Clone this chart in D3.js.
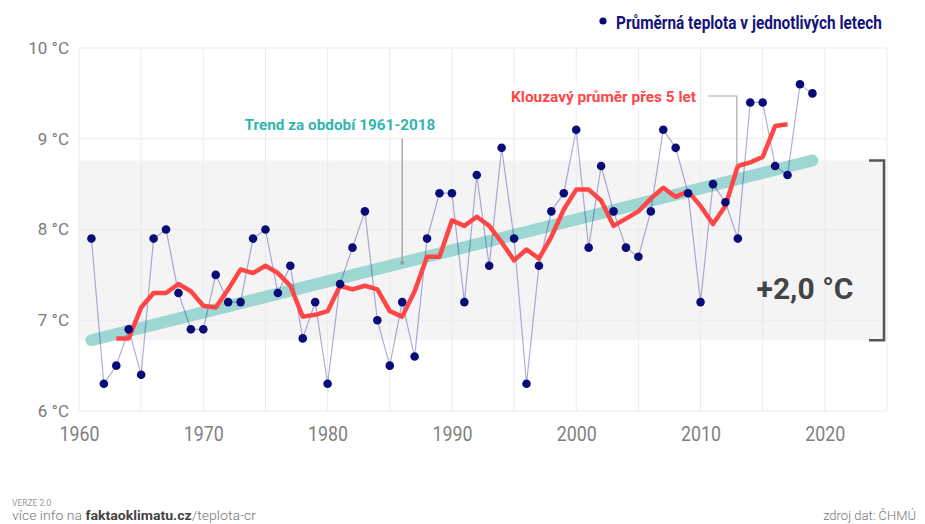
<!DOCTYPE html>
<html>
<head>
<meta charset="utf-8">
<script src="https://cdn.jsdelivr.net/npm/d3@7"></script>
<style>
  body { margin: 0; background: #fff; }
  svg { display: block; font-family: Roboto, "Noto Sans", sans-serif; }
</style>
</head>
<body>
<svg id="chart" width="925" height="524"></svg>
<script>
// roční průměry (ČHMÚ)
const years = [1961, 1962, 1963, 1964, 1965, 1966, 1967, 1968, 1969, 1970,
  1971, 1972, 1973, 1974, 1975, 1976, 1977, 1978, 1979, 1980,
  1981, 1982, 1983, 1984, 1985, 1986, 1987, 1988, 1989, 1990,
  1991, 1992, 1993, 1994, 1995, 1996, 1997, 1998, 1999, 2000,
  2001, 2002, 2003, 2004, 2005, 2006, 2007, 2008, 2009, 2010,
  2011, 2012, 2013, 2014, 2015, 2016, 2017, 2018, 2019]
const temps = [7.9, 6.3, 6.5, 6.9, 6.4, 7.9, 8.0, 7.3, 6.9, 6.9,
  7.5, 7.2, 7.2, 7.9, 8.0, 7.3, 7.6, 6.8, 7.2, 6.3,
  7.4, 7.8, 8.2, 7.0, 6.5, 7.2, 6.6, 7.9, 8.4, 8.4,
  7.2, 8.6, 7.6, 8.9, 7.9, 6.3, 7.6, 8.2, 8.4, 9.1,
  7.8, 8.7, 8.2, 7.8, 7.7, 8.2, 9.1, 8.9, 8.4, 7.2,
  8.5, 8.3, 7.9, 9.4, 9.4, 8.7, 8.6, 9.6, 9.5]

// klouzavy prumer pres 5 let
const maYears = [1963, 1964, 1965, 1966, 1967, 1968, 1969, 1970,
  1971, 1972, 1973, 1974, 1975, 1976, 1977, 1978, 1979, 1980,
  1981, 1982, 1983, 1984, 1985, 1986, 1987, 1988, 1989, 1990,
  1991, 1992, 1993, 1994, 1995, 1996, 1997, 1998, 1999, 2000,
  2001, 2002, 2003, 2004, 2005, 2006, 2007, 2008, 2009, 2010,
  2011, 2012, 2013, 2014, 2015, 2016, 2017]
const maValues = [6.80, 6.80, 7.14, 7.30, 7.30, 7.40, 7.32, 7.16,
  7.14, 7.34, 7.56, 7.52, 7.60, 7.52, 7.38, 7.04, 7.06, 7.10,
  7.38, 7.34, 7.38, 7.34, 7.10, 7.04, 7.32, 7.70, 7.70, 8.10,
  8.04, 8.14, 8.04, 7.86, 7.66, 7.78, 7.68, 7.92, 8.22, 8.44,
  8.44, 8.32, 8.04, 8.12, 8.20, 8.34, 8.46, 8.36, 8.42, 8.26,
  8.06, 8.26, 8.70, 8.74, 8.80, 9.14, 9.16]

// trend 1961-2018
const trendYears = [1961, 2019]
const trendValues = [6.78, 8.76]

const xTicks = [1960, 1970, 1980, 1990, 2000, 2010, 2020]
const xGrid = [1960, 1965, 1970, 1975, 1980, 1985, 1990, 1995, 2000, 2005, 2010, 2015, 2020, 2025]
const yTicks = [6, 7, 8, 9, 10]

var svg = d3.select("#chart")
var margin = {top: 48, right: 38, bottom: 113, left: 79}
var width = +svg.attr("width") - margin.left - margin.right
var height = +svg.attr("height") - margin.top - margin.bottom

var x = d3.scaleLinear().domain([1960, 2025]).range([0, width])
var y = d3.scaleLinear().domain([6, 10]).range([height, 0])

var g = svg.append("g").attr("transform", "translate(" + margin.left + "," + margin.top + ")")

// seda oblast mezi zacatkem a koncem trendu
g.append("rect")
  .attr("x", 0)
  .attr("width", width)
  .attr("y", y(trendValues[1]))
  .attr("height", y(trendValues[0]) - y(trendValues[1]))
  .attr("fill", "#f4f4f4")

// mrizka
g.append("g").selectAll("line").data(xGrid).enter().append("line")
  .attr("x1", d => x(d)).attr("x2", d => x(d))
  .attr("y1", 0).attr("y2", height)
  .attr("stroke", "#ebebeb")
g.append("g").selectAll("line").data(yTicks).enter().append("line")
  .attr("x1", 0).attr("x2", width)
  .attr("y1", d => y(d)).attr("y2", d => y(d))
  .attr("stroke", "#ebebeb")

// osy
var yAxis = g.append("g")
  .call(d3.axisLeft(y).tickValues(yTicks).tickSize(0).tickPadding(10).tickFormat(d => d + " °C"))
yAxis.select(".domain").remove()
yAxis.selectAll("text")
  .attr("font-family", "Roboto")
  .attr("font-size", 17)
  .attr("font-weight", 400)
  .attr("fill", "#7a7a7a")

var xAxis = g.append("g")
  .attr("transform", "translate(0," + height + ")")
  .call(d3.axisBottom(x).tickValues(xTicks).tickSize(0).tickPadding(16).tickFormat(d3.format("d")))
xAxis.select(".domain").remove()
xAxis.selectAll("text")
  .attr("font-family", "Roboto")
  .attr("font-size", 20)
  .attr("font-weight", 400)
  .attr("fill", "#808080")
  .attr("textLength", 40)
  .attr("lengthAdjust", "spacingAndGlyphs")

// trend
var trendData = trendYears.map((yr, i) => ({year: yr, value: trendValues[i]}))
var line = d3.line()
  .x(d => x(d.year))
  .y(d => y(d.value))

g.append("path")
  .datum(trendData)
  .attr("d", line)
  .attr("fill", "none")
  .attr("stroke", "#9dd6d3")
  .attr("stroke-width", 12)
  .attr("stroke-linecap", "round")

// jednotlive roky - spojnice
var data = years.map((yr, i) => ({year: yr, value: temps[i]}))
g.append("path")
  .datum(data)
  .attr("d", line)
  .attr("fill", "none")
  .attr("stroke", "#1a1a8c")
  .attr("stroke-opacity", 0.35)
  .attr("stroke-width", 1.2)

// klouzavy prumer
var maData = maYears.map((yr, i) => ({year: yr, value: maValues[i]}))
g.append("path")
  .datum(maData)
  .attr("d", line)
  .attr("fill", "none")
  .attr("stroke", "#ff4646")
  .attr("stroke-width", 4.5)
  .attr("stroke-linejoin", "round")

g.append("g").selectAll("circle").data(data).enter().append("circle")
  .attr("cx", d => x(d.year))
  .attr("cy", d => y(d.value))
  .attr("r", 4.3)
  .attr("fill", "#0b0b78")

// popisek trendu
var trendAt = 1986
var tVal = trendValues[0] + (trendValues[1] - trendValues[0]) * (trendAt - trendYears[0]) / (trendYears[1] - trendYears[0])
g.append("line")
  .attr("x1", x(trendAt)).attr("x2", x(trendAt))
  .attr("y1", y(9)).attr("y2", y(tVal))
  .attr("stroke", "#aaa")
  .attr("stroke-width", 1.5)
g.append("circle")
  .attr("cx", x(trendAt)).attr("cy", y(tVal))
  .attr("r", 2).attr("fill", "#999")

svg.append("text")
  .attr("x", 340).attr("y", 130)
  .attr("text-anchor", "middle")
  .attr("font-size", 15.3)
  .attr("font-weight", 700)
  .attr("fill", "#33b5af")
  .text("Trend za období 1961-2018")

// popisek klouzaveho prumeru
var maAt = maYears.indexOf(2013)
g.append("path")
  .attr("d", "M" + (708 - margin.left) + "," + (96 - margin.top) + "H" + (x(2013) - 1) + "V" + y(maValues[maAt]))
  .attr("fill", "none")
  .attr("stroke", "#aaa")
  .attr("stroke-width", 1.2)

var maLabel = svg.append("g")
var maRect = maLabel.append("rect").attr("fill", "#fff")
var maText = maLabel.append("text")
  .attr("x", 696).attr("y", 102)
  .attr("text-anchor", "end")
  .attr("font-size", 15.4)
  .attr("font-weight", 700)
  .attr("fill", "#ff4646")
  .text("Klouzavý průměr přes 5 let")
var bb = maText.node().getBBox()
maRect.attr("x", bb.x - 4).attr("y", bb.y - 2).attr("width", bb.width + 8).attr("height", bb.height + 4)

// zavorka +2,0 °C
g.append("path")
  .attr("d", "M" + (869 - margin.left) + "," + y(trendValues[1]) + "H" + (884 - margin.left) +
    "V" + y(trendValues[0]) + "H" + (869 - margin.left))
  .attr("fill", "none")
  .attr("stroke", "#555")
  .attr("stroke-width", 2.5)

svg.append("text")
  .attr("x", 805).attr("y", 299)
  .attr("text-anchor", "middle")
  .attr("font-size", 30)
  .attr("font-weight", 700)
  .attr("fill", "#444")
  .text("+2,0 °C")

// legenda
svg.append("circle")
  .attr("cx", 603).attr("cy", 21).attr("r", 3.6)
  .attr("fill", "#0b0b78")
svg.append("text")
  .attr("x", 616).attr("y", 29)
  .attr("font-size", 17.5)
  .attr("font-weight", 700)
  .attr("fill", "#14147a")
  .attr("textLength", 266)
  .attr("lengthAdjust", "spacingAndGlyphs")
  .text("Průměrná teplota v jednotlivých letech")

// paticka
svg.append("text")
  .attr("x", 12).attr("y", 506)
  .attr("font-size", 8.5)
  .attr("fill", "#999")
  .text("VERZE 2.0")

var info = svg.append("text")
  .attr("x", 12).attr("y", 520)
  .attr("font-size", 13)
  .attr("font-weight", 300)
  .attr("fill", "#777")
  .attr("textLength", 244)
  .attr("lengthAdjust", "spacingAndGlyphs")
info.append("tspan").text("více info na ")
info.append("tspan").attr("font-weight", 700).attr("fill", "#444").text("faktaoklimatu.cz")
info.append("tspan").text("/teplota-cr")

svg.append("text")
  .attr("x", 916).attr("y", 520)
  .attr("text-anchor", "end")
  .attr("font-size", 13)
  .attr("font-weight", 300)
  .attr("fill", "#777")
  .text("zdroj dat: ČHMÚ")
</script>
</body>
</html>
